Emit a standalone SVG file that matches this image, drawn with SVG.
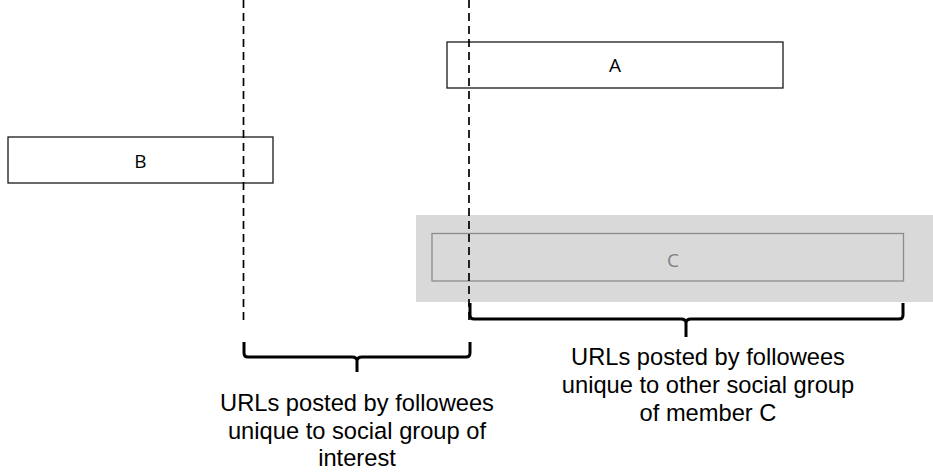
<svg xmlns="http://www.w3.org/2000/svg" width="933" height="472" viewBox="0 0 933 472">
  <style>
    .box { fill: #ffffff; stroke: #1a1a1a; stroke-width: 1.3; }
    .lbl { font-family: "Open Sans", "Liberation Sans", Arial, sans-serif; font-size: 19px; fill: #000000; text-anchor: middle; }
    .cap { font-family: "Liberation Sans", Arial, sans-serif; font-size: 23.7px; fill: #000000; text-anchor: middle; }
    .dash { stroke: #000000; stroke-width: 1.7; stroke-dasharray: 8 5; fill: none; }
    .brace { stroke: #000000; stroke-width: 3; fill: none; stroke-linejoin: round; }
  </style>

  <!-- shaded group backdrop with member C -->
  <g id="group-c">
    <rect x="416" y="215" width="517" height="87" fill="#d9d9d9"/>
    <rect x="432" y="233.5" width="471.5" height="47.5" fill="none" stroke="#8c8c8c" stroke-width="1.3"/>
    <text class="lbl" x="673" y="266.5" style="fill:#808080">C</text>
  </g>

  <g id="node-a">
    <rect class="box" x="447" y="42" width="336" height="46"/>
    <text class="lbl" x="615" y="71.5">A</text>
  </g>

  <g id="node-b">
    <rect class="box" x="8" y="137" width="265" height="46"/>
    <text class="lbl" x="140.5" y="168">B</text>
  </g>

  <!-- dashed boundaries and braces -->
  <g id="connectors">
    <line class="dash" x1="243.5" y1="0" x2="243.5" y2="323"/>
    <line class="dash" x1="469" y1="0" x2="469" y2="323"/>
    <path class="brace" d="M244,342 V353 Q244,357 248,357 H352 Q357,357 357,361 V372 M357,361 Q357,357 362,357 H466 Q470,357 470,353 V342"/>
    <path class="brace" d="M470,303 V315 Q470,319 474,319 H681 Q686,319 686,323 V337 M686,323 Q686,319 691,319 H899 Q903,319 903,315 V303"/>
  </g>

  <g id="caption-left">
    <text class="cap" x="357" y="411">URLs posted by followees</text>
    <text class="cap" x="357" y="438.5">unique to social group of</text>
    <text class="cap" x="357" y="466">interest</text>
  </g>

  <g id="caption-right">
    <text class="cap" x="708" y="365">URLs posted by followees</text>
    <text class="cap" x="708" y="393">unique to other social group</text>
    <text class="cap" x="708" y="421">of member C</text>
  </g>
</svg>
